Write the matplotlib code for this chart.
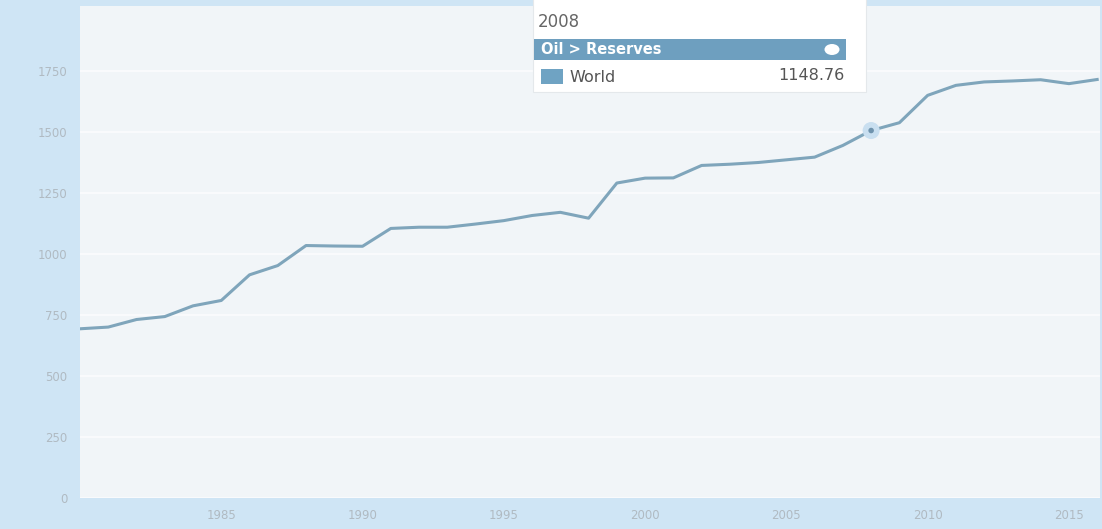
import matplotlib.pyplot as plt
from matplotlib.patches import Rectangle, Ellipse

# Datos (reservas mundiales de petróleo)
years = list(range(1980, 2017))
reserves = [
    693, 700, 731, 743, 787, 809, 914, 952, 1034, 1032,
    1031, 1104, 1109, 1109, 1122, 1136, 1157, 1170, 1146, 1290,
    1310, 1311, 1362, 1367, 1374, 1385, 1396, 1444, 1505, 1537,
    1649, 1690, 1704, 1708, 1713, 1697, 1714,
]
y_ticks = [0, 250, 500, 750, 1000, 1250, 1500, 1750]
x_ticks = [1985, 1990, 1995, 2000, 2005, 2010, 2015]

highlight_year = 2008
tooltip_title = "2008"
tooltip_header = "Oil > Reserves"
tooltip_series = "World"
tooltip_value = "1148.76"

outer_bg = '#cfe5f5'
panel_bg = '#f1f5f8'
line_color = '#7fa5bb'

fig = plt.figure(figsize=(11.02, 5.29), dpi=100, facecolor=outer_bg)
ax = fig.add_axes([80 / 1102, 1 - 498 / 529, 1020 / 1102, 492 / 529])
ax.set_facecolor(panel_bg)

ax.plot(years, reserves, color=line_color, linewidth=2.2, solid_joinstyle='round', zorder=3)

# Punto resaltado
i = years.index(highlight_year)
ax.scatter([years[i]], [reserves[i]], s=150, color='#c9dff0', edgecolors='none', zorder=4)
ax.scatter([years[i]], [reserves[i]], s=16, color='#6f93ad', edgecolors='none', zorder=5)

ax.set_xlim(1980, 2016.1)
ax.set_ylim(0, 2015)
ax.set_yticks(y_ticks)
ax.set_xticks(x_ticks)
ax.tick_params(axis='both', length=0, labelsize=8.5, labelcolor='#b0bac2')
ax.tick_params(axis='y', pad=9)
ax.tick_params(axis='x', pad=8)
ax.grid(axis='y', color='#fbfcfd', linewidth=1.2)
ax.set_axisbelow(True)
for s in ax.spines.values():
    s.set_visible(False)

# Tooltip
def px(x, y):
    # coordenadas de píxel de la figura -> fracción de la figura
    return x / 1102, 1 - y / 529

fig.patches.append(Rectangle(px(533, 92), 333 / 1102, 95 / 529, transform=fig.transFigure,
                             facecolor='white', edgecolor='#e4e8eb', linewidth=0.8, zorder=10))
fig.patches.append(Rectangle(px(534, 60), 312 / 1102, 21 / 529, transform=fig.transFigure,
                             facecolor='#6e9fbf', edgecolor='none', zorder=11))
fig.patches.append(Ellipse(px(832, 49.5), 15 / 1102, 11 / 529, transform=fig.transFigure,
                           facecolor='white', edgecolor='none', zorder=12))
fig.patches.append(Rectangle(px(541, 84), 22 / 1102, 15 / 529, transform=fig.transFigure,
                             facecolor='#6fa3c3', edgecolor='none', zorder=11))
fig.text(*px(538, 22), tooltip_title, fontsize=12, color='#666666', va='center', ha='left', zorder=12)
fig.text(*px(541, 50), tooltip_header, fontsize=10.5, color='white', fontweight='bold',
         va='center', ha='left', zorder=12)
fig.text(*px(569, 77), tooltip_series, fontsize=11.5, color='#555555', va='center', ha='left', zorder=12)
fig.text(*px(845, 76), tooltip_value, fontsize=11.5, color='#555555', va='center', ha='right', zorder=12)

fig.savefig('out.png', dpi=100, facecolor=outer_bg)
